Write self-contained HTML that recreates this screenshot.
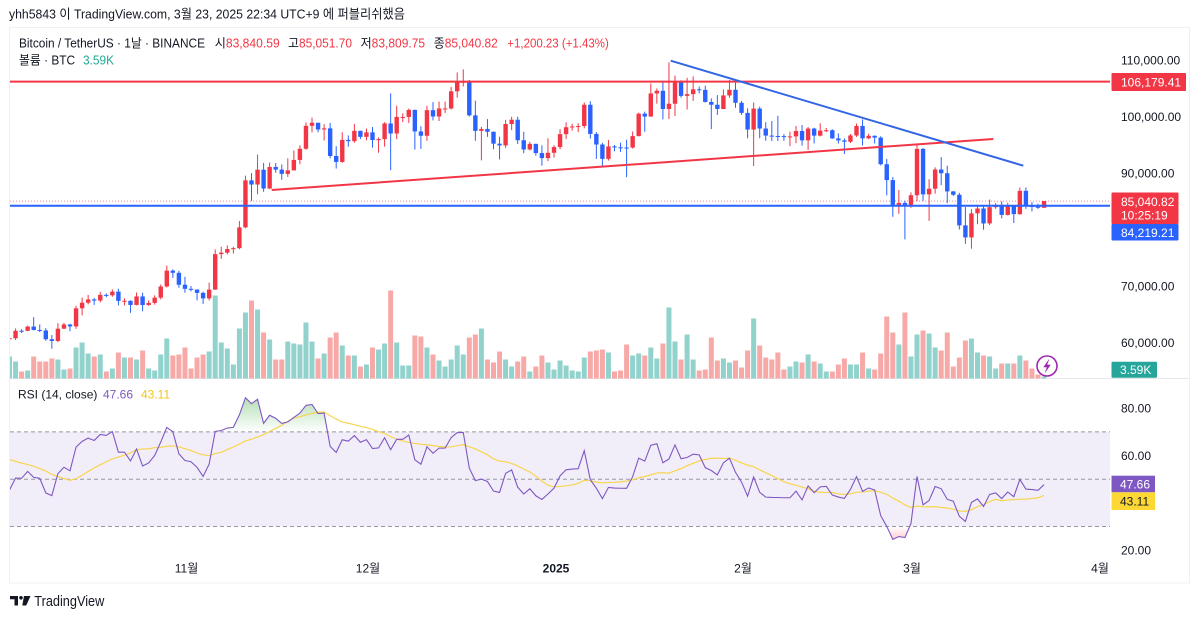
<!DOCTYPE html>
<html><head><meta charset="utf-8"><title>BTCUSDT</title>
<style>
html,body{margin:0;padding:0;background:#fff;}
body{width:1200px;height:619px;overflow:hidden;}
svg{display:block;}
text{font-family:"Liberation Sans","Noto Sans CJK KR",sans-serif;}
</style></head><body>
<svg id="s" width="1200" height="619" viewBox="0 0 1200 619" xmlns="http://www.w3.org/2000/svg">
<defs>
<clipPath id="cp"><rect x="10" y="28" width="1100" height="350.5"/></clipPath>
<clipPath id="cr"><rect x="10" y="379" width="1100" height="176"/></clipPath>
<clipPath id="cg"><rect x="10" y="379" width="1100" height="52.9"/></clipPath>
<clipPath id="cd"><rect x="10" y="526.5" width="1100" height="30"/></clipPath>
<linearGradient id="gg" gradientUnits="userSpaceOnUse" x1="0" y1="395" x2="0" y2="432"><stop offset="0" stop-color="#4caf50" stop-opacity="0.45"/><stop offset="1" stop-color="#4caf50" stop-opacity="0"/></linearGradient>
<linearGradient id="gr" gradientUnits="userSpaceOnUse" x1="0" y1="526.5" x2="0" y2="545"><stop offset="0" stop-color="#f23645" stop-opacity="0"/><stop offset="1" stop-color="#f23645" stop-opacity="0.35"/></linearGradient>
</defs>
<rect width="1200" height="619" fill="#fff"/>
<rect x="9.5" y="27.5" width="1180" height="555.5" fill="none" stroke="#eef0f3"/>
<line x1="10" y1="378.5" x2="1189" y2="378.5" stroke="#e6e8ee"/>

<!-- RSI background band & levels -->
<rect x="10" y="431.9" width="1100" height="94.6" fill="#7e57c2" fill-opacity="0.1"/>
<g stroke="#9598a1" stroke-dasharray="4,3" stroke-width="1">
<line x1="10" y1="431.9" x2="1110" y2="431.9"/>
<line x1="10" y1="479.2" x2="1110" y2="479.2"/>
<line x1="10" y1="526.5" x2="1110" y2="526.5"/>
</g>
<g clip-path="url(#cg)"><path id="rg" fill="url(#gg)" stroke="none"/></g>
<g clip-path="url(#cd)"><path id="rd" fill="url(#gr)" stroke="none"/></g>
<g clip-path="url(#cr)">
<path id="rma" fill="none" stroke="#f7d54e" stroke-width="1.2"/>
<path id="rl" fill="none" stroke="#7e57c2" stroke-width="1.1"/>
</g>

<!-- price pane -->
<g clip-path="url(#cp)">
<g id="vol"></g>
<line x1="10" y1="201.1" x2="1110" y2="201.1" stroke="#f23645" stroke-width="1" stroke-dasharray="1,2" stroke-opacity="0.6"/>
<g id="candles"></g>
<line x1="10" y1="81.6" x2="1110" y2="81.6" stroke="#f23645" stroke-width="2"/>
<line x1="10" y1="205.7" x2="1110" y2="205.7" stroke="#2962ff" stroke-width="2"/>
<line x1="271.7" y1="190" x2="993.3" y2="139" stroke="#f23645" stroke-width="2"/>
<line x1="670.7" y1="60.7" x2="1023.3" y2="165.7" stroke="#3366e6" stroke-width="2"/>
</g>
<!-- lightning icon -->
<circle cx="1047" cy="366" r="10" fill="#fff" stroke="#9c27b0" stroke-width="1.6"/>
<path d="M1049.5,358.5 L1043.3,367.2 L1046.8,367.2 L1044.6,373.5 L1050.7,364.8 L1047.2,364.8 Z" fill="#9c27b0"/>

<!-- header -->
<text x="9" y="18.7" font-size="13" fill="#131722" textLength="396" lengthAdjust="spacingAndGlyphs">yhh5843 이 TradingView.com, 3월 23, 2025 22:34 UTC+9 에 퍼블리쉬했음</text>
<g font-size="12.5">
<text x="19" y="47.5" fill="#131722" textLength="186" lengthAdjust="spacingAndGlyphs">Bitcoin / TetherUS · 1날 · BINANCE</text>
<text x="214.7" y="47.5" fill="#f23645" textLength="65" lengthAdjust="spacingAndGlyphs"><tspan fill="#131722">시</tspan>83,840.59</text>
<text x="288" y="47.5" fill="#f23645" textLength="64" lengthAdjust="spacingAndGlyphs"><tspan fill="#131722">고</tspan>85,051.70</text>
<text x="360.6" y="47.5" fill="#f23645" textLength="64.5" lengthAdjust="spacingAndGlyphs"><tspan fill="#131722">저</tspan>83,809.75</text>
<text x="433.8" y="47.5" fill="#f23645" textLength="64" lengthAdjust="spacingAndGlyphs"><tspan fill="#131722">종</tspan>85,040.82</text>
<text x="507.3" y="47.5" fill="#f23645" textLength="101.5" lengthAdjust="spacingAndGlyphs">+1,200.23 (+1.43%)</text>
<text x="19" y="64.5" fill="#131722" textLength="56" lengthAdjust="spacingAndGlyphs">볼륨 · BTC</text>
<text x="83" y="64.5" fill="#22ab94" textLength="31" lengthAdjust="spacingAndGlyphs">3.59K</text>
</g>

<!-- price axis -->
<g font-size="12" fill="#131722">
<text x="1121" y="64.3">110,000.00</text>
<text x="1121" y="120.8">100,000.00</text>
<text x="1121" y="177.3">90,000.00</text>
<text x="1121" y="290.3">70,000.00</text>
<text x="1121" y="346.8">60,000.00</text>
<text x="1121" y="412.6">80.00</text>
<text x="1121" y="460">60.00</text>
<text x="1121" y="554.3">20.00</text>
</g>
<rect x="1111.5" y="73" width="74.5" height="18" rx="1" fill="#f23645"/>
<text x="1121" y="86.3" font-size="12" fill="#fff">106,179.41</text>
<rect x="1111.5" y="192.5" width="67" height="31.5" rx="1" fill="#f23645"/>
<text x="1121" y="206" font-size="12" fill="#fff">85,040.82</text>
<text x="1121" y="219.3" font-size="12" fill="#fff">10:25:19</text>
<rect x="1111.5" y="224" width="67" height="16.5" rx="1" fill="#2962ff"/>
<text x="1121" y="237" font-size="12" fill="#fff">84,219.21</text>
<rect x="1111.5" y="361.7" width="45.5" height="16" rx="1" fill="#26a69a"/>
<text x="1120" y="374" font-size="12" fill="#fff">3.59K</text>
<rect x="1111.5" y="475.7" width="43.5" height="16.6" fill="#7e57c2"/>
<text x="1120" y="488.3" font-size="12" fill="#fff">47.66</text>
<rect x="1111.5" y="492.3" width="43.5" height="17.7" fill="#fdd835"/>
<text x="1120" y="505.5" font-size="12" fill="#131722">43.11</text>

<!-- RSI legend -->
<text x="18" y="398.5" font-size="12" fill="#131722">RSI (14, close)</text>
<text x="103" y="398.5" font-size="12" fill="#7e57c2">47.66</text>
<text x="141" y="398.5" font-size="12" fill="#f5c518">43.11</text>

<!-- time axis -->
<g font-size="12" fill="#131722" text-anchor="middle">
<text x="186.5" y="572.3">11월</text>
<text x="368" y="572.3">12월</text>
<text x="556" y="572.3" font-weight="bold">2025</text>
<text x="743" y="572.3">2월</text>
<text x="912" y="572.3">3월</text>
<text x="1100" y="572.3">4월</text>
</g>

<!-- TradingView logo -->
<g fill="#131722">
<path d="M10,596 H18 V605.5 H14.5 V599.3 H10 Z"/>
<circle cx="21" cy="597.8" r="1.8"/>
<path d="M24,596 H30.5 L26.2,605.5 H22.3 Z"/>
</g>
<text x="34.3" y="606" font-size="14.5" fill="#131722" textLength="70" lengthAdjust="spacingAndGlyphs">TradingView</text>
</svg>
<script>
(function(){
var NS="http://www.w3.org/2000/svg";
function el(tag,a,p){var e=document.createElementNS(NS,tag);for(var k in a)e.setAttribute(k,a[k]);p.appendChild(e);return e;}
var pre=[65.35,61.5,60.7,58.1,54.0,56.05,55.0,61.7,60.9,60.9,58.7,59.35,60.6,58.7,57.55,58.9,59.45,58.45,59.5,59.0,61.15,60.4,64.05,64.15,64.2,62.85,59.4,59.0,59.35,59.1,58.95,
57.3,59.1,57.5,57.95,56.15,53.95,54.15,54.85,57.05,57.65,57.35,58.13,60.55,60.0,59.2,58.2,60.3,61.75,62.95,63.2,63.35,63.6,63.35,64.3,63.15,65.2,65.8,65.9,65.6,63.3,
60.8,60.65];
var D=[[60.75,61.45,59.8],[62.08,62.48,60.46],[62.06,62.37,61.68],[62.82,62.98,61.99],[62.22,64.48,62.13],[62.13,63.2,61.83],[60.58,62.54,60.3],[60.27,61.32,58.9],[62.45,63.42,60.06],[63.19,63.48,62.39],
[62.85,63.3,62.0],[66.05,66.5,62.42],[67.04,67.95,64.8],[67.62,68.42,66.75],[67.42,67.9,66.66],[68.43,68.98,67.1],[68.36,68.69,68.0],[69.0,69.4,68.1],[67.37,69.5,66.57],[67.38,67.83,66.56],
[66.65,67.45,65.26],[68.16,68.85,66.57],[66.64,68.8,65.52],[67.01,67.45,66.5],[67.94,68.35,66.7],[69.91,70.27,67.62],[72.72,73.62,69.73],[72.34,72.96,71.44],[70.22,72.7,69.68],[69.5,71.63,68.82],
[69.37,70.0,69.05],[68.78,69.42,67.46],[67.81,69.0,66.83],[69.36,70.58,67.45],[75.64,76.46,69.32],[75.9,76.95,74.8],[76.54,77.2,75.6],[76.7,76.95,75.75],[80.37,81.5,76.5],[88.7,89.53,80.22],
[87.96,89.95,85.07],[90.58,93.27,86.25],[87.25,91.79,86.67],[91.07,91.85,87.12],[90.6,91.78,90.06],[89.85,91.52,88.8],[90.46,92.6,89.3],[92.31,94.0,90.94],[94.29,94.9,91.55],[98.35,98.95,94.12],
[98.9,99.8,97.2],[97.7,98.8,97.2],[97.9,98.65,95.75],[93.01,98.87,92.6],[91.96,94.75,90.79],[95.86,97.2,91.8],[95.64,96.65,94.65],[97.46,98.7,95.36],[96.4,97.5,96.0],[97.19,97.88,95.77],
[95.84,98.15,94.5],[96.0,96.3,93.58],[98.77,99.0,94.66],[96.99,104.09,90.5],[99.92,101.9,95.98],[99.92,100.55,99.0],[101.17,101.4,98.85],[97.36,101.22,94.15],[96.59,98.27,94.26],[101.12,101.9,95.7],
[100.0,102.54,99.31],[101.42,102.65,99.2],[101.42,102.65,100.6],[104.46,105.25,101.23],[106.06,107.79,103.33],[106.14,108.35,105.32],[100.2,106.47,100.0],[97.46,102.8,95.7],[97.8,98.17,92.23],[97.29,99.54,96.4],
[95.19,97.36,94.2],[94.88,96.42,92.4],[98.67,99.4,94.45],[99.43,99.96,97.6],[95.8,99.96,95.14],[94.16,97.3,93.5],[95.16,95.5,94.0],[93.53,95.18,93.05],[92.64,94.9,91.3],[93.58,96.15,92.1],
[94.59,94.93,92.72],[96.88,97.77,94.2],[98.1,98.95,96.0],[98.24,98.73,97.5],[98.31,98.8,97.23],[102.08,102.48,97.9],[96.92,102.7,96.1],[95.04,97.25,92.5],[92.5,95.35,91.2],[94.7,95.83,92.2],
[94.55,94.95,93.85],[94.51,95.37,93.7],[94.5,95.9,89.25],[96.53,97.35,94.33],[100.5,100.68,96.48],[99.99,100.86,97.3],[104.08,105.86,99.95],[104.55,104.97,102.27],[101.33,106.3,99.5],[102.26,109.59,99.55],
[106.14,107.24,100.1],[103.65,106.4,103.32],[103.96,106.85,101.24],[104.82,107.1,102.75],[104.71,105.3,104.1],[102.58,105.45,102.46],[102.08,103.2,97.78],[101.33,103.78,100.28],[103.73,104.78,101.33],[104.73,106.46,103.3],
[102.43,106.0,101.55],[100.64,102.76,100.28],[97.69,101.46,96.15],[101.4,102.5,91.23],[97.87,101.75,96.15],[96.62,99.0,95.7],[96.55,99.2,95.65],[96.53,100.13,95.65],[96.48,96.88,95.69],[96.48,97.32,94.75],
[97.43,98.35,95.26],[95.78,98.5,94.85],[97.87,98.13,94.09],[96.61,98.0,95.23],[97.5,98.8,96.47],[97.57,97.97,97.23],[96.12,97.73,96.05],[95.77,97.0,95.2],[95.54,96.13,93.36],[96.64,96.9,95.3],
[98.33,98.77,96.4],[96.13,99.48,94.87],[96.58,96.96,95.98],[96.27,96.67,95.23],[91.55,96.5,91.35],[88.74,92.5,86.05],[84.35,89.28,82.26],[84.71,87.0,82.78],[84.35,85.1,78.25],[86.06,86.56,83.83],
[94.27,95.0,85.04],[86.22,94.42,85.08],[87.22,88.9,81.53],[90.62,91.0,86.34],[89.96,92.81,87.85],[86.74,91.3,84.66],[86.15,86.85,85.93],[80.73,86.5,80.0],[78.6,83.98,77.46],[82.86,83.6,76.6],
[83.72,84.35,80.95],[81.07,84.35,79.95],[83.95,85.3,80.8],[84.35,84.69,83.65],[82.58,85.0,81.99],[84.08,84.73,82.48],[82.72,84.1,81.15],[86.85,87.45,82.6],[84.17,87.44,83.65],[84.04,84.85,83.18],
[83.84,84.55,83.65],[85.04082,85.0517,83.80975]];
var V=[22,17,7,8,22,17,17,20,19,9,10,31,36,25,22,24,7,10,26,21,21,19,28,10,8,24,40,23,24,31,10,21,24,27,83,36,30,14,50,66,78,69,46,39,19,19,37,35,34,56,37,20,25,41,46,33,23,23,12,14,31,29,35,88,36,13,13,43,42,31,24,18,12,19,33,24,41,44,50,19,16,27,19,12,17,22,7,12,23,16,9,18,13,8,7,21,27,28,29,26,7,8,34,23,25,23,31,20,35,71,37,19,44,19,8,9,41,18,20,16,18,11,28,60,33,21,19,26,9,12,17,16,24,17,15,7,7,14,20,14,14,26,10,9,25,62,46,34,66,22,44,48,45,31,28,46,12,21,38,40,26,23,22,10,15,15,15,23,18,10,4,2];
function X(i){return 9.5+6.05*i;}
function Y(p){return 60+(110-p)*5.65;}
function R(r){return 408.3+(80-r)*2.365;}
var gV=document.getElementById('vol'),gC=document.getElementById('candles');
var prev=60.65;
for(var i=0;i<D.length;i++){
 var c=D[i][0],h=D[i][1],l=D[i][2];
 var o=(i==D.length-1)?83.84059:prev;
 var up=c>=o, col=up?'#f23645':'#2962ff';
 var vh=V[i]||0;
 el('rect',{x:(X(i)-2.5).toFixed(2),y:(378.5-vh).toFixed(2),width:5,height:vh,fill:up?'#92d2cc':'#f7a9a7'},gV);
 el('line',{x1:X(i).toFixed(2),x2:X(i).toFixed(2),y1:Y(h).toFixed(2),y2:Y(l).toFixed(2),stroke:col,'stroke-width':1},gC);
 var t=Y(Math.max(o,c)),b=Y(Math.min(o,c));
 el('rect',{x:(X(i)-2.2).toFixed(2),y:t.toFixed(2),width:4.4,height:Math.max(b-t,1).toFixed(2),fill:col},gC);
 prev=c;
}
// RSI
var cl=pre.concat(D.map(function(d){return d[0];}));
var n=cl.length,rsi=[],au=0,ad=0;
for(var k=0;k<n;k++)rsi.push(null);
for(k=1;k<n;k++){
 var ch=cl[k]-cl[k-1],u=Math.max(ch,0),d=Math.max(-ch,0);
 if(k<=14){au+=u/14;ad+=d/14;if(k==14)rsi[k]=ad==0?100:100-100/(1+au/ad);}
 else{au=(au*13+u)/14;ad=(ad*13+d)/14;rsi[k]=ad==0?100:100-100/(1+au/ad);}
}
var ma=[];
for(k=0;k<n;k++){
 if(k<27){ma.push(null);continue;}
 var s=0;for(var j=k-13;j<=k;j++)s+=rsi[j];ma.push(s/14);
}
var off=pre.length,pr='',pm='',pts=[];
for(i=-3;i<D.length;i++){
 k=i+off;
 var x=X(i).toFixed(2);
 var yr=R(rsi[k]).toFixed(2), ym=R(ma[k]).toFixed(2);
 pr+=(pr?'L':'M')+x+','+yr;
 pm+=(pm?'L':'M')+x+','+ym;
 pts.push(x+','+yr);
}
document.getElementById('rl').setAttribute('d',pr);
document.getElementById('rma').setAttribute('d',pm);
var x0=X(-3).toFixed(2),x1=X(D.length-1).toFixed(2);
document.getElementById('rg').setAttribute('d','M'+x0+',431.9L'+pts.join('L')+'L'+x1+',431.9Z');
document.getElementById('rd').setAttribute('d','M'+x0+',526.5L'+pts.join('L')+'L'+x1+',526.5Z');
})();
</script>
</body></html>
